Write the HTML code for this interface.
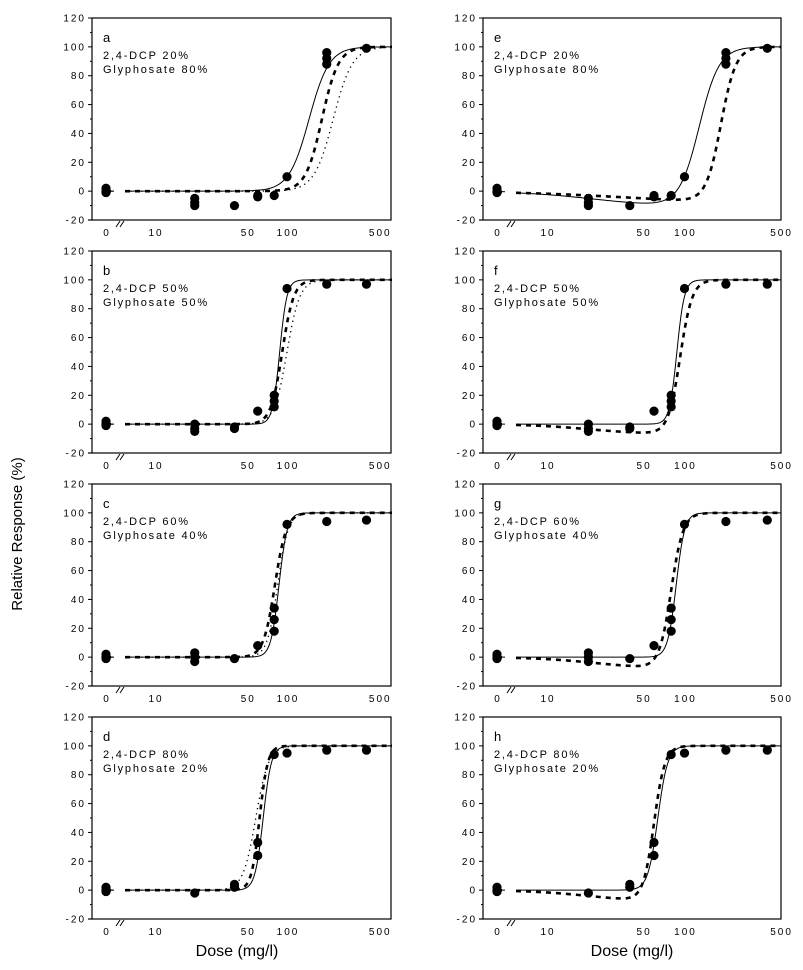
<!DOCTYPE html>
<html><head><meta charset="utf-8"><style>
html,body{margin:0;padding:0;background:#fff;}
svg{display:block;font-family:"Liberation Sans",Arial,sans-serif;}
.tk{font-size:10px;letter-spacing:2px;fill:#000;}
.lab{font-size:11px;letter-spacing:1.8px;fill:#000;}
</style></head><body>
<svg id="chart" width="803" height="970" viewBox="0 0 803 970">
<text x="22" y="534" transform="rotate(-90 22 534)" text-anchor="middle" font-size="15">Relative Response (%)</text>
<text x="237" y="956" text-anchor="middle" font-size="16">Dose (mg/l)</text>
<text x="632" y="956" text-anchor="middle" font-size="16">Dose (mg/l)</text>
</svg>
<script>
// ---- data ----
const panelLetters = ["a","b","c","d","e","f","g","h"];
const mixDCP = ["20%","50%","60%","80%","20%","50%","60%","80%"];
const mixGly = ["80%","50%","40%","20%","80%","50%","40%","20%"];
const doseA = [0,0,0,20,20,20,40,60,60,80,100,200,200,200,400];
const respA = [0,2,-1,-5,-8,-10,-10,-3,-4,-3,10,88,92,96,99];
const doseB = [0,0,0,20,20,20,40,40,60,80,80,80,100,200,400];
const respB = [0,2,-1,0,-3,-5,-2,-3,9,12,16,20,94,97,97];
const doseC = [0,0,0,20,20,20,40,60,80,80,80,100,200,400];
const respC = [0,2,-1,3,0,-3,-1,8,18,26,34,92,94,95];
const doseD = [0,0,0,20,40,40,60,60,80,100,200,400];
const respD = [0,2,-1,-2,2,4,24,33,94,95,97,97];
const panelDoses = [doseA,doseB,doseC,doseD,doseA,doseB,doseC,doseD];
const panelResps = [respA,respB,respC,respD,respA,respB,respC,respD];
// fitted curve parameters: [ED50, slope, hormesisDip, dipHalfDose, dipPower]
const curveSolid = [[147,5.7,0,20,2],[88,16,0,20,2],[87,14,0,20,2],[66,14,0,20,2],
                    [128,6,-11,22,1.6],[88,16,0,20,2],[87,14,0,20,2],[64,12,0,20,2]];
const curveDashed = [[184,7,0,20,2],[92,10,0,20,2],[81,10,0,20,2],[62,14,0,20,2],
                     [184,8,-9,40,1],[93,10,-7,20,2],[80,10,-8,22,2],[60,11,-8,20,2]];
const curveDotted = [[224,6,0,20,2],[100,9,0,20,2],[85,11,0,20,2],[58,9,0,20,2],
                     null,null,null,null];
const yTicks = [-20,0,20,40,60,80,100,120];
const xTickVals = [10,50,100,500];
const xTickLabels = ["10","50","100","500"];

// ---- layout ----
const NS="http://www.w3.org/2000/svg";
const svg=document.getElementById('chart');
function mk(tag,attrs,parent){const e=document.createElementNS(NS,tag);for(const k in attrs)e.setAttribute(k,attrs[k]);(parent||svg).appendChild(e);return e;}
const cols=[{L:92,R:391,x0:106,x10:155,dec:132,brk:120},{L:483,R:781,x0:497,x10:547,dec:137.5,brk:511}];
const tops=[18,251,484,717];
const PH=202;

function curveY(p,x){
  const L=1/(1+Math.pow(x/p[0],-p[1]));
  const h=p[2]*Math.pow(x,p[4])/(Math.pow(x,p[4])+Math.pow(p[3],p[4]));
  return 100*L+h*(1-L);
}

for(let i=0;i<8;i++){
  const c=cols[Math.floor(i/4)], top=tops[i%4];
  const yS=v=>top+ (120-v)*PH/140;
  const xS=d=>d===0?c.x0:c.x10+(Math.log10(d)-1)*c.dec;
  const g=mk('g',{});
  
  
  const cid='clip'+i;
  const cp=mk('clipPath',{id:cid},g);mk('rect',{x:c.L,y:top-2,width:c.R-c.L+1,height:PH+4},cp);
  const fr=mk('rect',{x:c.L,y:top,width:c.R-c.L,height:PH,fill:'none',stroke:'#000','stroke-width':1.2},g);
  
  
  mk('line',{x1:c.L-4,y1:top+PH,x2:c.L,y2:top+PH,stroke:'#000','stroke-width':1.2},g);
  for(let k=0;k<yTicks.length;k++){
    const v=yTicks[k],y=yS(v);
    mk('line',{x1:c.L-4,y1:y,x2:c.L,y2:y,stroke:'#000'},g);
    if(k<yTicks.length-1){const ym=yS(v+10);mk('line',{x1:c.L-2,y1:ym,x2:c.L,y2:ym,stroke:'#000'},g);}
    const t=mk('text',{x:c.L-6,y:y+3.5,'text-anchor':'end',class:'tk'},g);t.textContent=v;
    
    
  }
  const t0=mk('text',{x:c.x0+1,y:top+PH+16,'text-anchor':'middle',class:'tk'},g);t0.textContent='0';
  
  
  for(let k=0;k<xTickVals.length;k++){
    const t=mk('text',{x:xS(xTickVals[k])+1,y:top+PH+16,'text-anchor':'middle',class:'tk'},g);t.textContent=xTickLabels[k];
    
    
  }
  const bk=mk('path',{d:`M${c.brk-4} ${top+PH+7} L${c.brk} ${top+PH+1} M${c.brk} ${top+PH+7} L${c.brk+4} ${top+PH+1}`,stroke:'#000',fill:'none'},g);
  
  
  const lx=c.L+11;
  const l1=mk('text',{x:lx,y:top+24,'font-size':13},g);l1.textContent=panelLetters[i];
  
  
  const l2=mk('text',{x:lx,y:top+41,class:'lab'},g);l2.textContent='2,4-DCP '+mixDCP[i];
  
  
  const l3=mk('text',{x:lx,y:top+55,class:'lab'},g);l3.textContent='Glyphosate '+mixGly[i];
  
  
  const styles=[[curveSolid,{stroke:'#000','stroke-width':1,fill:'none'},'solid-fit-curve'],
                [curveDashed,{stroke:'#000','stroke-width':2.6,fill:'none','stroke-dasharray':'5 5'},'dashed-fit-curve'],
                [curveDotted,{stroke:'#000','stroke-width':1.3,fill:'none','stroke-dasharray':'1.3 4'},'dotted-fit-curve']];
  for(const [arr,st,nm] of styles){
    const p=arr[i]; if(!p) continue;
    const xStart=c.brk+5;
    const dStart=Math.pow(10,1+(xStart-c.x10)/c.dec);
    let d=`M${c.x0} ${yS(curveY(p,dStart*0.3))} L${c.brk-6} ${yS(curveY(p,dStart*0.5))} `;
    for(let px=xStart;px<=c.R+1;px+=1.5){
      const dose=Math.pow(10,1+(px-c.x10)/c.dec);
      d+=(px===xStart?'M':'L')+px.toFixed(1)+' '+yS(curveY(p,dose)).toFixed(2)+' ';
    }
    const a=Object.assign({d:d,'clip-path':`url(#${cid})`},st);
    const pe=mk('path',a,g);
    
    
  }
  const ds=panelDoses[i],rs=panelResps[i];
  for(let k=0;k<ds.length;k++){
    const pt=mk('circle',{cx:xS(ds[k]),cy:yS(rs[k]),r:4.6,fill:'#000'},g);
    
    
  }
}
</script>
</body></html>
